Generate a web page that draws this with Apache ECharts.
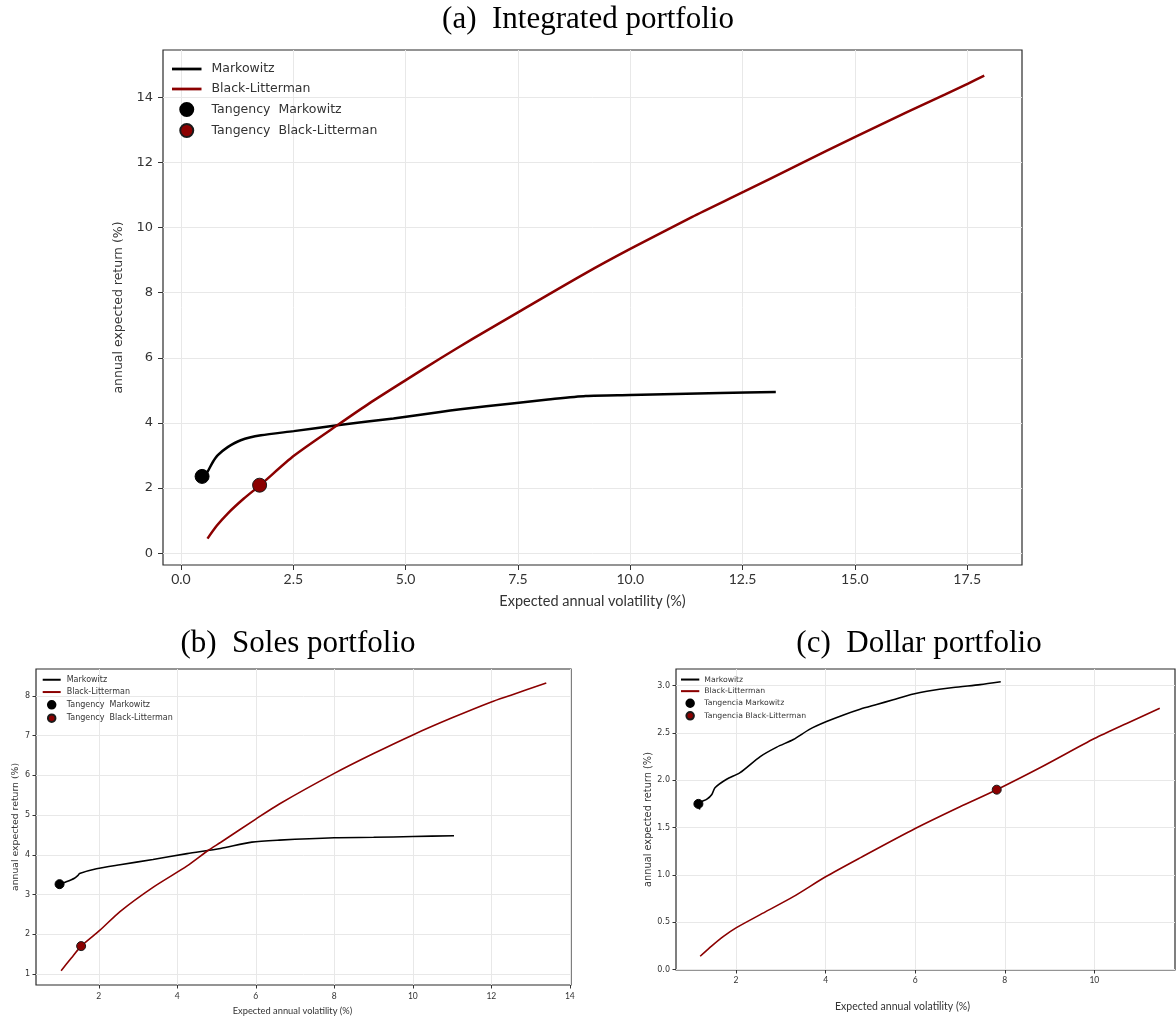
<!DOCTYPE html>
<html><head><meta charset="utf-8">
<script src="https://cdn.jsdelivr.net/npm/echarts@6/dist/echarts.min.js"></script>
<style>html,body{margin:0;padding:0;background:#fff}#c{width:1176px;height:1019px}</style>
</head><body><div id="c"></div>
<script>
// ---------- titles ----------
const titles = ['(a)  Integrated portfolio', '(b)  Soles portfolio', '(c)  Dollar portfolio'];

// ---------- (a) Integrated portfolio ----------
const aMarkX = [0.48, 0.52, 0.59, 0.70, 0.82, 1.04, 1.33, 1.78, 2.51, 3.48, 4.73, 5.77, 6.22, 7.37, 8.17, 9.01, 10.0, 11.0, 12.0, 13.24];
const aMarkY = [2.34, 2.40, 2.50, 2.78, 3.01, 3.26, 3.47, 3.62, 3.75, 3.93, 4.14, 4.34, 4.42, 4.60, 4.72, 4.83, 4.86, 4.89, 4.92, 4.95];
const aBlX = [0.59, 0.80, 1.04, 1.40, 1.76, 2.52, 3.48, 4.20, 5.03, 5.77, 6.50, 7.53, 8.97, 10.01, 11.37, 12.53, 13.76, 15.02, 16.16, 17.00, 17.52, 17.88];
const aBlY = [0.45, 0.85, 1.22, 1.68, 2.09, 3.00, 3.93, 4.61, 5.34, 5.98, 6.59, 7.42, 8.57, 9.35, 10.32, 11.10, 11.94, 12.79, 13.54, 14.08, 14.42, 14.66];
const aTanMark = [0.47, 2.36];
const aTanBl = [1.75, 2.09];
const aXTicks = [0, 2.5, 5, 7.5, 10, 12.5, 15, 17.5];
const aYTicks = [0, 2, 4, 6, 8, 10, 12, 14];

// ---------- (b) Soles portfolio ----------
const bMarkX = [1.00, 1.17, 1.38, 1.47, 1.51, 1.94, 2.54, 3.38, 4.25, 5.10, 5.90, 6.60, 8.00, 9.00, 10.00, 11.05];
const bMarkY = [3.26, 3.32, 3.41, 3.48, 3.53, 3.65, 3.75, 3.88, 4.03, 4.16, 4.32, 4.37, 4.43, 4.44, 4.46, 4.48];
const bBlX = [1.04, 1.30, 1.55, 2.03, 2.54, 3.38, 4.25, 4.80, 5.10, 6.00, 6.60, 8.00, 9.00, 10.00, 11.00, 12.00, 12.50, 13.40];
const bBlY = [1.08, 1.40, 1.70, 2.10, 2.57, 3.18, 3.72, 4.12, 4.31, 4.90, 5.28, 6.05, 6.55, 7.02, 7.45, 7.85, 8.02, 8.33];
const bTanMark = [1.00, 3.26];
const bTanBl = [1.55, 1.70];
const bXTicks = [2, 4, 6, 8, 10, 12, 14];
const bYTicks = [1, 2, 3, 4, 5, 6, 7, 8];

// ---------- (c) Dollar portfolio ----------
const cMarkX = [1.19, 1.16, 1.35, 1.46, 1.53, 1.79, 2.09, 2.54, 2.91, 3.28, 3.65, 4.02, 4.40, 4.77, 5.14, 5.51, 5.96, 6.26, 6.85, 7.45, 7.91];
const cMarkY = [1.69, 1.75, 1.80, 1.85, 1.92, 2.01, 2.08, 2.25, 2.35, 2.43, 2.54, 2.62, 2.69, 2.75, 2.80, 2.85, 2.91, 2.94, 2.98, 3.01, 3.04];
const cBlX = [1.20, 1.46, 1.72, 2.00, 2.54, 3.28, 4.00, 4.77, 6.00, 7.00, 7.82, 8.86, 10.00, 10.72, 11.46];
const cBlY = [0.14, 0.25, 0.35, 0.44, 0.58, 0.77, 0.98, 1.18, 1.49, 1.72, 1.90, 2.15, 2.44, 2.60, 2.76];
const cTanMark = [1.16, 1.75];
const cTanBl = [7.82, 1.90];
const cXTicks = [2, 4, 6, 8, 10];
const cYTicks = [0, 0.5, 1.0, 1.5, 2.0, 2.5, 3.0];

const legendAB = ['Markowitz', 'Black-Litterman', 'Tangency  Markowitz', 'Tangency  Black-Litterman'];
const legendC = ['Markowitz', 'Black-Litterman', 'Tangencia Markowitz', 'Tangencia Black-Litterman'];
const xName = 'Expected annual volatility (%)';
const yName = 'annual expected return (%)';

const BLACK = '#000000', RED = '#8b0000';
const pair = (xs, ys) => xs.map((v, i) => [v, ys[i]]);

const chart = echarts.init(document.getElementById('c'));

function gridCfg(left, top, width, height) {
  return { left, top, width, height, show: true, borderColor: '#2b2b2b', borderWidth: 1.2, backgroundColor: 'transparent', containLabel: false };
}
function axisCfg(gi, min, max, ticks, fmt, o) {
  return {
    type: 'value', gridIndex: gi, min, max,
    name: o.name, nameLocation: 'middle', nameGap: o.nameGap,
    nameTextStyle: { fontFamily: o.nameFont, fontSize: o.nameSize, color: '#333', padding: o.namePad || 0 },
    axisLine: { show: false, onZero: false },
    axisTick: { show: true, length: o.tickLen, lineStyle: { color: '#333', width: 1 }, customValues: ticks },
    axisLabel: { customValues: ticks, formatter: fmt, fontFamily: o.labelFont, fontSize: o.labelSize, color: '#333', margin: o.labelMargin },
    splitLine: { show: true, lineStyle: { color: '#e8e8e8', width: 1 } },
    scale: true
  };
}
const f1 = v => Number(v).toFixed(1);
const f0 = v => String(Math.round(v));

function seriesSet(gi, markX, markY, blX, blY, tanM, tanB, lw, ms, names) {
  return [
    { name: names[0], type: 'line', xAxisIndex: gi, yAxisIndex: gi, data: pair(markX, markY), symbol: 'none', smooth: 0.25, lineStyle: { color: BLACK, width: lw }, itemStyle: { color: BLACK }, z: 2 },
    { name: names[1], type: 'line', xAxisIndex: gi, yAxisIndex: gi, data: pair(blX, blY), symbol: 'none', smooth: 0.25, lineStyle: { color: RED, width: lw }, itemStyle: { color: RED }, z: 2 },
    { name: names[2], type: 'scatter', xAxisIndex: gi, yAxisIndex: gi, data: [tanM], symbol: 'circle', symbolSize: ms, itemStyle: { color: BLACK, borderColor: '#000', borderWidth: 1, opacity: 1 }, z: 3 },
    { name: names[3], type: 'scatter', xAxisIndex: gi, yAxisIndex: gi, data: [tanB], symbol: 'circle', symbolSize: ms, itemStyle: { color: RED, borderColor: '#1a1a1a', borderWidth: 1, opacity: 1 }, z: 3 }
  ];
}

function legendCfg(left, top, iw, ih, lh, gap, fs, pad, linePath, names) {
  return {
    orient: 'vertical', left, top, padding: 0, itemWidth: iw, itemHeight: ih, itemGap: gap,
    selectedMode: false,
    data: [
      { name: names[0], icon: linePath, itemStyle: { color: BLACK } },
      { name: names[1], icon: linePath, itemStyle: { color: RED } },
      { name: names[2], icon: 'circle' },
      { name: names[3], icon: 'circle' }
    ],
    textStyle: { fontFamily: 'DejaVu Sans', fontSize: fs, lineHeight: lh, color: '#333', padding: [0, 0, 0, pad] }
  };
}

const titleText = (t, x, y) => ({
  type: 'text', x, y,
  style: { text: t, font: '31px "Liberation Serif", "Times New Roman", serif', fill: '#000', align: 'center', verticalAlign: 'middle' }
});

const option = {
  animation: false,
  backgroundColor: '#fff',
  graphic: [titleText(titles[0], 588, 20), titleText(titles[1], 298, 644), titleText(titles[2], 919, 644)],
  grid: [gridCfg(163, 50, 859, 515), gridCfg(36, 669, 535, 316), gridCfg(676, 669, 499, 301)],
  xAxis: [
    axisCfg(0, -0.4, 18.72, aXTicks, f1, { name: xName, nameGap: 29, nameFont: 'Lato', nameSize: 14.5, tickLen: 5, labelFont: 'Lato', labelSize: 14, labelMargin: 7 }),
    axisCfg(1, 0.4, 14.03, bXTicks, f0, { name: xName, nameGap: 21, nameFont: 'Lato', nameSize: 9.3, namePad: [0, 22, 0, 0], tickLen: 3.5, labelFont: 'Lato', labelSize: 8.5, labelMargin: 7 }),
    axisCfg(2, 0.66, 11.8, cXTicks, f0, { name: xName, nameGap: 31, nameFont: 'Lato', nameSize: 10.5, namePad: [0, 46, 0, 0], tickLen: 3.5, labelFont: 'Lato', labelSize: 8.5, labelMargin: 6 })
  ],
  yAxis: [
    axisCfg(0, -0.36, 15.45, aYTicks, f0, { name: yName, nameGap: 27, nameFont: 'DejaVu Sans', nameSize: 12.5, tickLen: 5, labelFont: 'DejaVu Sans', labelSize: 13, labelMargin: 10 }),
    axisCfg(1, 0.72, 8.68, bYTicks, f0, { name: yName, nameGap: 16, nameFont: 'DejaVu Sans', nameSize: 9.3, tickLen: 3.5, labelFont: 'DejaVu Sans', labelSize: 8, labelMargin: 6 }),
    axisCfg(2, -0.005, 3.175, cYTicks, f1, { name: yName, nameGap: 21, nameFont: 'DejaVu Sans', nameSize: 9.8, tickLen: 3.5, labelFont: 'DejaVu Sans', labelSize: 8, labelMargin: 6 })
  ],
  legend: [
    legendCfg(172, 62, 29.5, 13, 14, 6, 12.5, 5, 'path://M0,0L30,0L30,2.8L0,2.8Z', legendAB),
    legendCfg(42.7, 675.5, 18, 7.5, 8.5, 3.8, 8, 1, 'path://M0,0L18,0L18,2L0,2Z', legendAB),
    legendCfg(681, 675.3, 18.3, 7.5, 8.5, 3.1, 7.7, 0, 'path://M0,0L18,0L18,2L0,2Z', legendC)
  ],
  series: [].concat(
    seriesSet(0, aMarkX, aMarkY, aBlX, aBlY, aTanMark, aTanBl, 2.5, 14, legendAB),
    seriesSet(1, bMarkX, bMarkY, bBlX, bBlY, bTanMark, bTanBl, 1.6, 9, legendAB),
    seriesSet(2, cMarkX, cMarkY, cBlX, cBlY, cTanMark, cTanBl, 1.6, 9, legendC)
  )
};
chart.setOption(option);
</script>
</body></html>
